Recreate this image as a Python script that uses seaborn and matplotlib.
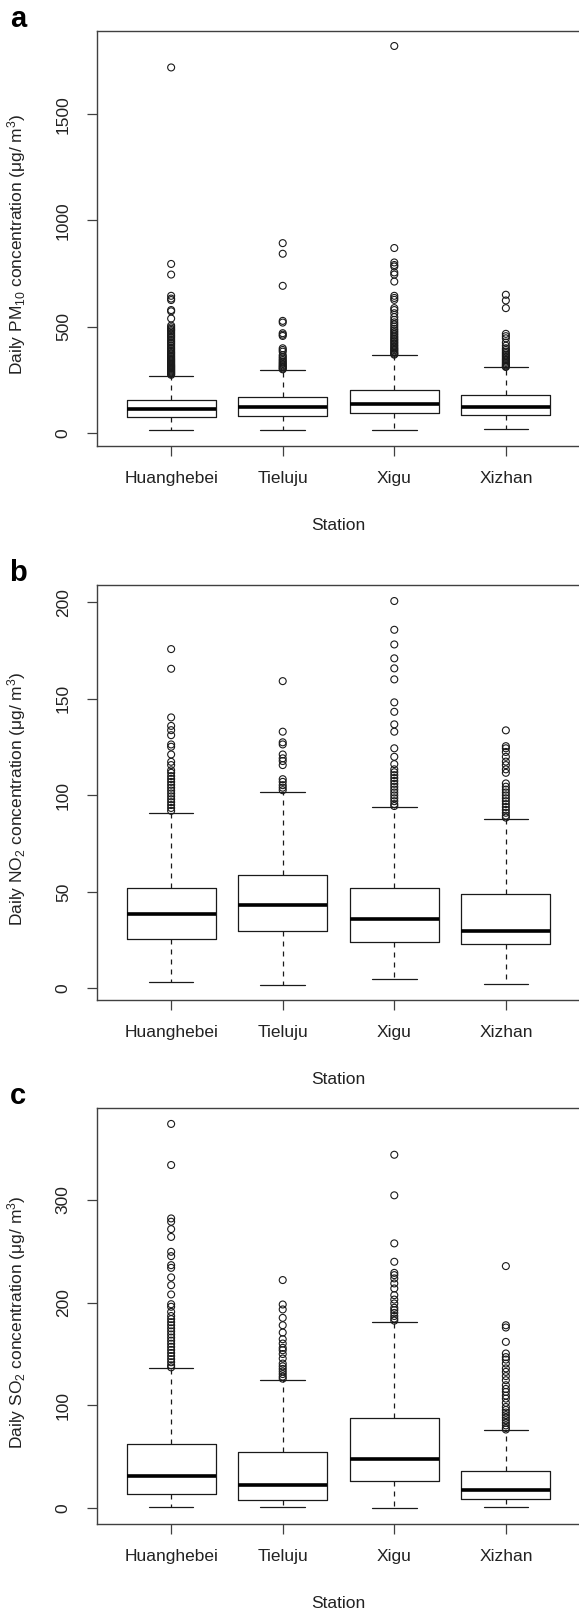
import numpy as np
import pandas as pd
import matplotlib
matplotlib.use("Agg")
import matplotlib.pyplot as plt
import seaborn as sns

stations = ["Huanghebei", "Tieluju", "Xigu", "Xizhan"]

# box statistics: whisker low, Q1, median, Q3, whisker high
pm10_stats = [[11, 75, 110, 153, 269],
              [11, 80, 120, 168, 296],
              [11, 91, 135, 201, 366],
              [17, 83, 123, 178, 308]]
no2_stats = [[3.1, 25.7, 38.3, 51.8, 91.0],
             [1.9, 29.8, 43.0, 58.9, 101.7],
             [5.0, 23.8, 35.9, 51.8, 93.9],
             [2.1, 22.8, 29.8, 48.9, 87.9]]
so2_stats = [[1.0, 13.6, 31.2, 62.4, 136.2],
             [1.0, 7.8, 22.4, 54.6, 125.1],
             [0.4, 26.0, 48.1, 88.1, 181.3],
             [1.3, 9.1, 17.2, 36.1, 75.7]]

# outliers
pm10_out_huanghebei = [1720, 795, 745, 645, 632, 625, 578, 572, 538, 505, 497, 490, 484, 478, 470,
                       462, 455, 448, 440, 432, 425, 418, 410, 402, 395, 388, 381, 375, 369, 363,
                       357, 351, 346, 341, 336, 331, 326, 321, 317, 313, 309, 305, 301, 297, 293,
                       289, 285, 281, 277, 273]
pm10_out_tieluju = [893, 843, 692, 527, 519, 469, 462, 456, 398, 390, 382, 366, 358, 350, 343, 336,
                    330, 324, 318, 313, 308, 303, 299]
pm10_out_xigu = [1821, 870, 802, 790, 783, 755, 745, 712, 645, 635, 626, 587, 578, 563, 545, 532,
                 520, 510, 500, 490, 482, 474, 466, 458, 450, 443, 436, 429, 422, 415, 408, 401,
                 395, 389, 383, 377, 372, 368]
pm10_out_xizhan = [650, 623, 587, 466, 455, 445, 425, 410, 398, 390, 382, 375, 368, 361, 354, 347,
                   341, 335, 329, 323, 318, 313, 310]

no2_out_huanghebei = [175.8, 165.6, 140.4, 136, 133.8, 131.2, 126.4, 125.2, 121.2, 117.4, 115.7, 113,
                      111.7, 110, 108.5, 107, 105.5, 104, 102.5, 101, 99.5, 98, 96.5, 95, 93.5, 92]
no2_out_tieluju = [159.2, 133, 127.5, 126.4, 121.2, 119.2, 117.8, 115.7, 108.4, 107, 105.3, 104, 102.7]
no2_out_xigu = [200.7, 185.8, 178.2, 171, 165.8, 160.1, 148.2, 143.3, 136.8, 133, 124.4, 120, 116.2,
                113.5, 112, 110.5, 109, 107.5, 106, 104.5, 103, 101.5, 100, 98.5, 97, 95.5, 94.5]
no2_out_xizhan = [133.7, 125.5, 124.4, 122.5, 120, 117.5, 115.7, 113.5, 111.7, 106.2, 104.5, 103,
                  101.5, 100, 98.5, 97, 95.5, 94, 92.5, 91, 89.5, 88.5]

so2_out_huanghebei = [374, 334, 282, 278.8, 271.6, 264, 249.5, 245.3, 236.5, 233.9, 224.6, 217, 208,
                      198.5, 196, 191, 187, 184, 181, 178, 175, 172, 169, 166, 163, 160, 157, 154,
                      151, 148, 145, 142, 139, 137]
so2_out_tieluju = [222, 198.2, 193.4, 185.2, 178, 170.9, 164.4, 160.2, 156, 153.7, 150, 145.6, 140.7,
                   138, 135.5, 133, 130.5, 128, 126]
so2_out_xigu = [344, 304.5, 257.7, 239.8, 229, 226.8, 223.6, 218.7, 213.8, 207.3, 203, 199.2, 195,
                192.7, 190, 187, 184.5, 182.5]
so2_out_xizhan = [235.6, 178, 175.8, 161.8, 150.5, 147, 144.6, 140.7, 136, 132.6, 128.5, 124.5, 119.6,
                  116, 113.1, 109.5, 106.6, 102.5, 98.4, 95.5, 93, 90.5, 88, 85.5, 83, 80.5, 78, 76.5]

pm10_ticks = [0, 500, 1000, 1500]
no2_ticks = [0, 50, 100, 150, 200]
so2_ticks = [0, 100, 200, 300]

sns.set_theme(style="ticks")
plt.rcParams["font.family"] = ["Liberation Sans", "DejaVu Sans"]
plt.rcParams["mathtext.fontset"] = "custom"
plt.rcParams["mathtext.rm"] = "Liberation Sans"
plt.rcParams["mathtext.it"] = "Liberation Sans:italic"

W, H = 579, 1611
fig = plt.figure(figsize=(W / 100, H / 100), dpi=100)

panels = [
    ("a", pm10_stats, [pm10_out_huanghebei, pm10_out_tieluju, pm10_out_xigu, pm10_out_xizhan],
     pm10_ticks, (-62, 1893), r"Daily PM$_{10}$ concentration (μg/ m$^{3}$)", 30.7, 446),
    ("b", no2_stats, [no2_out_huanghebei, no2_out_tieluju, no2_out_xigu, no2_out_xizhan],
     no2_ticks, (-6, 209), r"Daily NO$_{2}$ concentration (μg/ m$^{3}$)", 585, 1000),
    ("c", so2_stats, [so2_out_huanghebei, so2_out_tieluju, so2_out_xigu, so2_out_xizhan],
     so2_ticks, (-15.5, 390), r"Daily SO$_{2}$ concentration (μg/ m$^{3}$)", 1107.5, 1524),
]

left_px, right_px = 97.5, 579.5
line_c = "#1a1a1a"
frame_c = "#404040"
text_c = "#222222"
fs = 12.5

for letter, stats, outs, ticks, ylim, ylabel, top_px, bot_px in panels:
    ax = fig.add_axes([left_px / W, 1 - bot_px / H, (right_px - left_px) / W, (bot_px - top_px) / H])
    ax_h = bot_px - top_px
    ax_w = right_px - left_px

    bxp_stats = []
    for name, s in zip(stations, stats):
        bxp_stats.append(dict(label=name, whislo=s[0], q1=s[1], med=s[2], q3=s[3], whishi=s[4], fliers=[]))
    ax.bxp(bxp_stats, positions=range(len(stations)), widths=0.8, showfliers=False,
           boxprops=dict(color=line_c, lw=0.9),
           whiskerprops=dict(color=line_c, lw=0.9, linestyle=(0, (4, 4))),
           capprops=dict(color=line_c, lw=0.9),
           medianprops=dict(color="black", lw=2.6, solid_capstyle="butt"))

    df = pd.DataFrame({
        "station": np.repeat(stations, [len(o) for o in outs]),
        "value": np.concatenate([np.asarray(o, dtype=float) for o in outs]),
    })
    sns.stripplot(data=df, x="station", y="value", order=stations, jitter=False,
                  color="none", edgecolor=line_c, linewidth=0.8, size=5, ax=ax, zorder=3)

    ax.set_xlim(-0.66, 3.66)
    ax.set_ylim(*ylim)
    ax.set_xticks(range(len(stations)))
    ax.set_xticklabels(stations)
    ax.set_yticks(ticks)
    ax.set_yticklabels([str(t) for t in ticks])

    for sp in ax.spines.values():
        sp.set_visible(True)
        sp.set_color(frame_c)
        sp.set_linewidth(1.0)
    ax.tick_params(axis="both", direction="out", length=7.2, width=0.9, color=frame_c,
                   labelsize=fs, labelcolor=text_c)
    ax.tick_params(axis="x", pad=10.5)
    ax.tick_params(axis="y", pad=12, labelrotation=90)
    for lab in ax.get_yticklabels():
        lab.set_va("center")

    ax.set_xlabel("Station", fontsize=fs, color=text_c)
    ax.xaxis.label.set_va("center")
    ax.xaxis.set_label_coords(0.5, -79 / ax_h)
    ax.set_ylabel(ylabel, fontsize=fs, color=text_c)
    ax.yaxis.label.set_va("center")
    ax.yaxis.set_label_coords((17 - left_px) / ax_w, 0.485)

    fig.text(18 / W, 1 - (top_px - 12) / H, letter, fontsize=21, fontweight="bold",
             ha="center", va="center", color="black")

fig.savefig("out.png", dpi=100)
